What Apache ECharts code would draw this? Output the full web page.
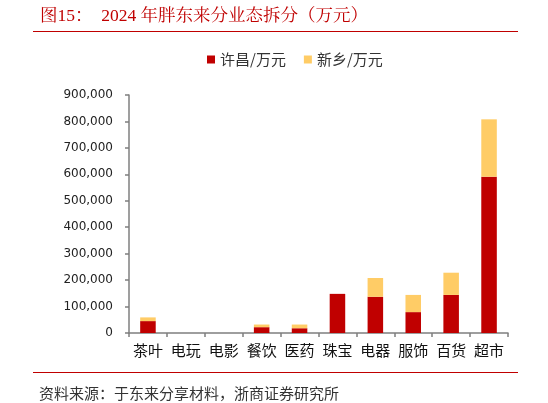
<!DOCTYPE html>
<html>
<head>
<meta charset="utf-8">
<script src="https://cdn.jsdelivr.net/npm/echarts@6/dist/echarts.min.js"></script>
<style>
  html, body { margin: 0; padding: 0; background: #fff; }
  #chart { width: 548px; height: 403px; }
</style>
</head>
<body>
<div id="chart"></div>
<script>
const categories = ["茶叶", "电玩", "电影", "餐饮", "医药", "珠宝", "电器", "服饰", "百货", "超市"];
const xuchang = [45000, 0, 0, 22000, 18000, 148000, 137000, 79000, 144000, 591000];
const xinxiang = [14000, 0, 0, 10000, 14000, 0, 71000, 65000, 84000, 217000];
const yTicks = { min: 0, max: 900000, interval: 100000 };

const cjk = '"Noto Sans CJK SC", "Noto Sans", sans-serif';
const serif = '"Liberation Serif", "Noto Serif CJK SC", "Noto Sans CJK SC", serif';

const myChart = echarts.init(document.getElementById("chart"));

const option = {
  animation: false,
  backgroundColor: "#fff",
  title: [
    {
      text: "图15：  2024 年胖东来分业态拆分（万元）",
      left: 35,
      top: 3,
      textStyle: { color: "#C00000", fontSize: 17.5, fontWeight: "normal", fontFamily: serif },
    },
    {
      text: "资料来源：于东来分享材料，浙商证券研究所",
      left: 34,
      top: 381,
      textStyle: { color: "#333", fontSize: 15, fontWeight: "normal", fontFamily: cjk },
    },
  ],
  graphic: [
    { type: "line", shape: { x1: 33, y1: 31.5, x2: 518, y2: 31.5 }, style: { stroke: "#C00000", lineWidth: 1 } },
    { type: "line", shape: { x1: 33, y1: 372.5, x2: 518, y2: 372.5 }, style: { stroke: "#C00000", lineWidth: 1 } },
  ],
  legend: {
    left: 202,
    top: 47,
    icon: "rect",
    itemWidth: 8,
    itemHeight: 8,
    itemGap: 18,
    textStyle: { color: "#333", fontSize: 15, fontFamily: cjk },
    data: ["许昌/万元", "新乡/万元"],
  },
  grid: { left: 129, right: 40, top: 95, bottom: 70 },
  xAxis: {
    type: "category",
    data: categories,
    axisLine: { lineStyle: { color: "#7f7f7f", width: 1.5 } },
    axisTick: { show: true, length: 4, lineStyle: { color: "#7f7f7f", width: 1.5 } },
    axisLabel: { color: "#111", fontSize: 15, margin: 10, fontFamily: cjk, interval: 0 },
  },
  yAxis: {
    type: "value",
    min: yTicks.min,
    max: yTicks.max,
    interval: yTicks.interval,
    splitLine: { show: false },
    axisLine: { show: true, lineStyle: { color: "#7f7f7f", width: 1.5 } },
    axisTick: { show: true, length: 4, lineStyle: { color: "#7f7f7f", width: 1.5 } },
    axisLabel: {
      color: "#222",
      fontSize: 12,
      margin: 16,
      fontFamily: '"DejaVu Sans", sans-serif',
      formatter: v => v.toLocaleString("en-US"),
    },
  },
  series: [
    {
      name: "许昌/万元",
      type: "bar",
      stack: "total",
      barWidth: "41%",
      data: xuchang,
      itemStyle: { color: "#C00000" },
    },
    {
      name: "新乡/万元",
      type: "bar",
      stack: "total",
      barWidth: "41%",
      data: xinxiang,
      itemStyle: { color: "#FFCC66" },
    },
  ],
};
myChart.setOption(option);
</script>
</body>
</html>
